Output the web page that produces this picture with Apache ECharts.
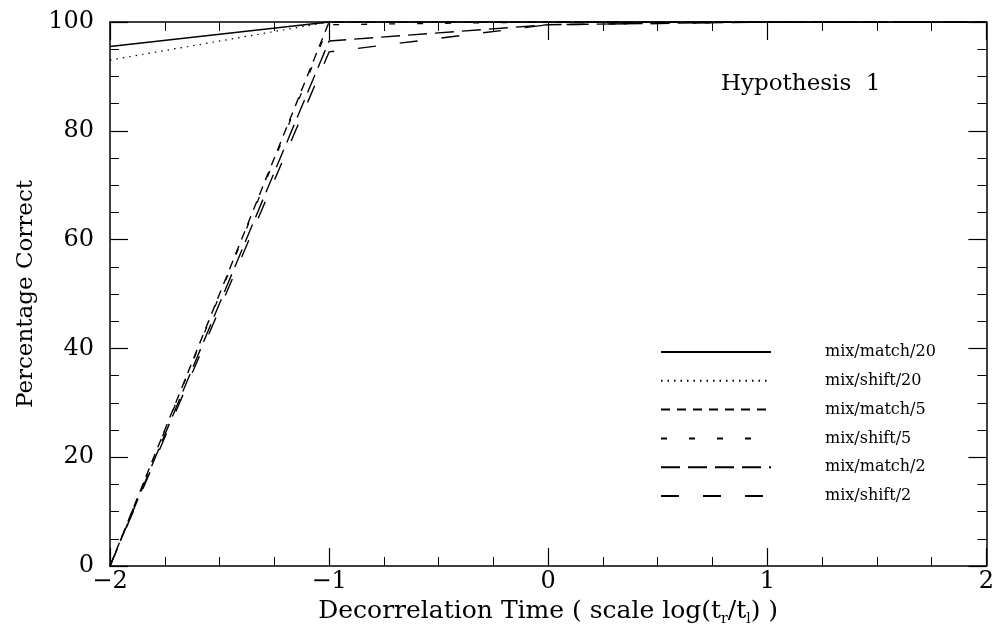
<!DOCTYPE html>
<html>
<head>
<meta charset="utf-8">
<script src="https://cdn.jsdelivr.net/npm/echarts@6/dist/echarts.min.js"></script>
<style>html,body{margin:0;padding:0;background:#fff;}#c{width:997px;height:637px;}</style>
</head>
<body>
<div id="c"></div>
<script>
// ---- data ----
var xValues   = [-2, -1, 0, 1, 2];
var match20   = [95.5, 100, 100, 100, 100];
var shift20   = [93, 100, 100, 100, 100];
var match5    = [0, 100, 100, 100, 100];
var shift5    = [0, 99.5, 100, 100, 100];
var match2    = [0, 96.5, 99.5, 100, 100];
var shift2    = [0, 94.5, 99.5, 100, 100];
var seriesNames = ['mix/match/20', 'mix/shift/20', 'mix/match/5', 'mix/shift/5', 'mix/match/2', 'mix/shift/2'];
var seriesValues = [match20, shift20, match5, shift5, match2, shift2];
var xTickLabels = ['−2', '−1', '0', '1', '2'];
var yTickLabels = ['0', '20', '40', '60', '80', '100'];
var annotation = 'Hypothesis  1';

var FONT = 'DejaVu Serif';
var dashes = ['solid', [1.5, 5], [9, 7], [6, 22], [19, 8], [18, 24]];
var widths = [1.4, 1.2, 1.4, 1.3, 1.4, 1.4];

function pairs(vals) {
  return xValues.map(function (x, i) { return [x, vals[i]]; });
}

var series = seriesNames.map(function (n, i) {
  return {
    name: n,
    type: 'line',
    symbol: 'none',
    data: pairs(seriesValues[i]),
    lineStyle: { color: '#000', width: widths[i], type: dashes[i] },
    itemStyle: { color: '#000' },
    animation: false
  };
});

function xLabel(v) {
  var idx = xValues.indexOf(v);
  return idx >= 0 ? xTickLabels[idx] : '';
}
function yLabel(v) {
  var s = String(v);
  return yTickLabels.indexOf(s) >= 0 ? s : '';
}

var axisLine = { show: true, onZero: false, lineStyle: { color: '#000', width: 1.5 } };
var tick = { show: true, inside: true, length: 18, lineStyle: { color: '#000', width: 1.2 } };
var minor = { show: true, splitNumber: 4, length: 9, lineStyle: { color: '#000', width: 1 } };

var chart = echarts.init(document.getElementById('c'));
chart.setOption({
  backgroundColor: '#fff',
  animation: false,
  textStyle: { fontFamily: FONT, color: '#000' },
  grid: { left: 110, right: 9, top: 22, bottom: 71 },
  title: {
    text: annotation,
    left: 716, top: 68,
    textStyle: { fontFamily: FONT, fontSize: 23, fontWeight: 'normal', color: '#000' }
  },
  legend: {
    orient: 'vertical',
    left: 655, top: 339,
    itemWidth: 110, itemHeight: 14, itemGap: 12.8,
    data: seriesNames,
    itemStyle: { color: 'transparent', borderColor: 'transparent', borderWidth: 0 },
    textStyle: { fontFamily: FONT, fontSize: 16, color: '#000', padding: [0, 0, 0, 49] }
  },
  xAxis: [
    {
      type: 'value', min: -2, max: 2, interval: 1, position: 'bottom',
      axisLine: axisLine, axisTick: tick, minorTick: minor, splitLine: { show: false },
      axisLabel: { formatter: xLabel, fontFamily: FONT, fontSize: 24, color: '#000', margin: 4 },
      name: '{n|Decorrelation Time ( scale log(t}{s|r}{n|/t}{s|l}{n|) )}',
      nameLocation: 'middle', nameGap: 28,
      nameTextStyle: {
        rich: {
          n: { fontFamily: FONT, fontSize: 25, color: '#000', lineHeight: 30 },
          s: { fontFamily: FONT, fontSize: 14, color: '#000', lineHeight: 30, verticalAlign: 'bottom' }
        }
      }
    },
    {
      type: 'value', min: -2, max: 2, interval: 1, position: 'top',
      axisLine: axisLine, axisTick: tick, minorTick: minor, splitLine: { show: false },
      axisLabel: { show: false }
    }
  ],
  yAxis: [
    {
      type: 'value', min: 0, max: 100, interval: 20, position: 'left',
      axisLine: axisLine, axisTick: tick, minorTick: minor, splitLine: { show: false },
      axisLabel: { formatter: yLabel, fontFamily: FONT, fontSize: 24, color: '#000', margin: 16 },
      name: 'Percentage Correct', nameLocation: 'middle', nameGap: 70, nameRotate: 90,
      nameTextStyle: { fontFamily: FONT, fontSize: 23, color: '#000' }
    },
    {
      type: 'value', min: 0, max: 100, interval: 20, position: 'right',
      axisLine: axisLine, axisTick: tick, minorTick: minor, splitLine: { show: false },
      axisLabel: { show: false }
    }
  ],
  series: series
});
</script>
</body>
</html>
